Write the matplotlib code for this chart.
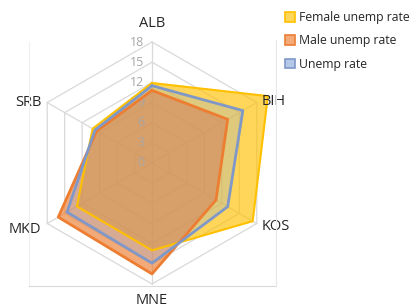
import numpy as np
import matplotlib
matplotlib.use("Agg")
import matplotlib.pyplot as plt
import matplotlib.colors as mc
from matplotlib.patches import Patch
from matplotlib.lines import Line2D

categories = ["ALB", "BIH", "KOS", "MNE", "MKD", "SRB"]
female = [11.9, 19.9, 17.3, 13.0, 12.9, 10.2]
male = [10.8, 13.0, 11.0, 16.5, 16.1, 9.5]
unemp = [11.5, 15.6, 13.0, 14.9, 14.6, 9.8]
ticks = [0, 3, 6, 9, 12, 15, 18]
series_names = ["Female unemp rate", "Male unemp rate", "Unemp rate"]

plt.rcParams['font.family'] = ['Open Sans', 'DejaVu Sans']

W, H = 415, 305
fig = plt.figure(figsize=(W / 100, H / 100), dpi=100)
cx, cy, R = 152, 163, 121
ax = fig.add_axes([(cx - R) / W, (H - cy - R) / H, 2 * R / W, 2 * R / H], projection='polar')
ax.set_theta_offset(np.pi / 2)
ax.set_theta_direction(-1)
ax.set_ylim(0, 18)
ax.grid(False)
ax.set_xticks([])
ax.set_yticks([])
ax.spines['polar'].set_visible(False)
ax.patch.set_alpha(0)

n = len(categories)
theta = np.arange(n) * 2 * np.pi / n
tc = np.concatenate([theta, theta[:1]])

grid_c = '#d9d9d9'
for t in ticks[1:]:
    ax.plot(tc, [t] * (n + 1), color=grid_c, lw=0.9, zorder=1, clip_on=False)
for th in theta:
    ax.plot([th, th], [0, 18], color=grid_c, lw=0.9, zorder=1, clip_on=False)

styles = [
    dict(face='#FFC000', fa=0.65, edge='#FFC000', lw=1.5),
    dict(face='#ED7D31', fa=0.65, edge='#ED7D31', lw=2.0),
    dict(face='#8FAADC', fa=0.28, edge='#7F98C8', lw=2.0),
]
for vals, st in zip([female, male, unemp], styles):
    v = np.concatenate([vals, vals[:1]])
    ax.fill(tc, v, color=st['face'], alpha=st['fa'], lw=0, zorder=2, clip_on=False)
    ax.plot(tc, v, color=st['edge'], lw=st['lw'], zorder=3, clip_on=False)

for t in ticks:
    ax.annotate(str(t), xy=(0, t), xytext=(-8, 0), textcoords='offset pixels',
                ha='right', va='center', fontsize=9, color='#a6a6a6', zorder=2.5,
                annotation_clip=False)

offs = {
    "ALB": ((0, 11), 'center', 'bottom'),
    "BIH": ((5, 1), 'left', 'center'),
    "KOS": ((5, -3), 'left', 'center'),
    "MNE": ((0, -9), 'center', 'top'),
    "MKD": ((-6, -6), 'right', 'center'),
    "SRB": ((-6, 0), 'right', 'center'),
}
for th, c in zip(theta, categories):
    o, ha, va = offs[c]
    ax.annotate(c, xy=(th, 18), xytext=o, textcoords='offset pixels',
                ha=ha, va=va, fontsize=10.5, color='#262626', zorder=5,
                annotation_clip=False)

# plot-area border
fig.add_artist(Line2D([29 / W, 29 / W], [1 - 286 / H, 1 - 42 / H], color='#f0f0f0', lw=0.8))
fig.add_artist(Line2D([29 / W, 276 / W], [1 - 286 / H, 1 - 286 / H], color='#d9d9d9', lw=0.8))
fig.add_artist(Line2D([276 / W, 276 / W], [1 - 286 / H, 1 - 40 / H], color='#e6e6e6', lw=0.8))

handles = []
for st in styles:
    rgb = np.array(mc.to_rgb(st['face']))
    handles.append(Patch(facecolor=tuple(rgb * 0.65 + 0.35), edgecolor=st['edge'], lw=1.2))
leg = fig.legend(handles, series_names, loc='upper left', bbox_to_anchor=(280 / W, 1 - 6 / H),
                 frameon=False, fontsize=8.8, handlelength=0.85, handleheight=0.85,
                 handletextpad=0.3, labelspacing=0.85, borderaxespad=0)
for t in leg.get_texts():
    t.set_color('#262626')

fig.savefig('out.png', dpi=100)
